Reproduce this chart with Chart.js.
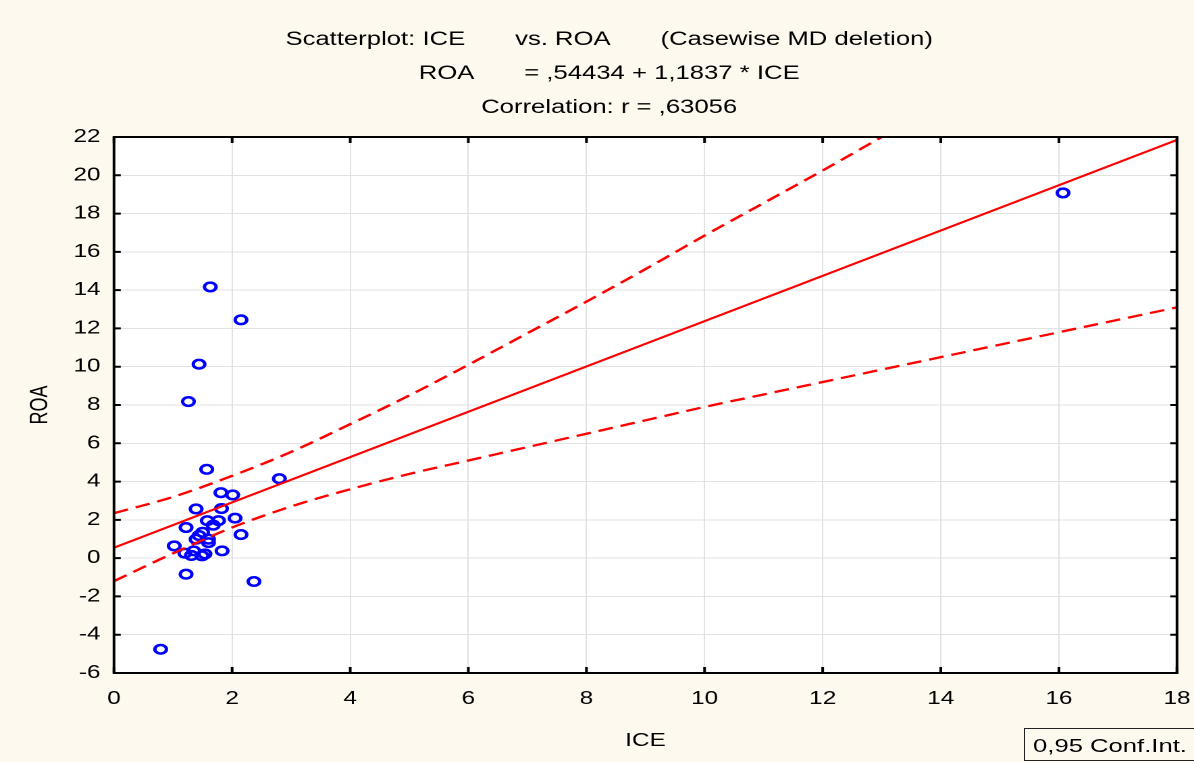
<!DOCTYPE html>
<html>
<head>
<meta charset="utf-8">
<script src="https://cdn.jsdelivr.net/npm/chart.js@4/dist/chart.umd.min.js"></script>
<style>
  html, body { margin: 0; padding: 0; background: #fdf9ef; overflow: hidden; }
  #wrap {
    position: absolute; left: 0; top: 0;
    width: 884px; height: 762px;
    transform: scaleX(1.3507); transform-origin: 0 0;
  }
  #legendBox {
    position: absolute; left: 1024px; top: 728px;
    width: 200px; height: 33px; line-height: 33px;
    border: 1px solid #222; background: #fdf9ef;
    padding-left: 8px; box-sizing: border-box;
    font-family: "Liberation Sans", Arial, sans-serif; font-size: 19px; color: #000;
  }
  #legendBox span { display: inline-block; transform: scaleX(1.35); transform-origin: 0 50%; white-space: pre; }
</style>
</head>
<body>
<div id="wrap"><canvas id="scatterChart" width="884" height="762"></canvas></div>
<div id="legendBox"><span>0,95 Conf.Int.</span></div>
<script>
// observed cases (ICE, ROA)
const iceValues = [1.26, 1.57, 2.80, 1.81, 2.01, 1.39, 1.82, 1.58, 1.77, 2.05, 1.22, 1.68, 1.50, 1.44, 1.39, 1.60,
                   1.60, 2.15, 1.02, 1.35, 1.83, 1.20, 1.54, 1.31, 1.49, 1.22, 2.37, 0.79, 1.63, 2.15, 1.44, 16.07];
const roaValues = [8.18, 4.64, 4.15, 3.42, 3.30, 2.57, 2.59, 1.96, 1.96, 2.09, 1.60, 1.72, 1.35, 1.18, 0.99, 0.99,
                   0.81, 1.23, 0.64, 0.38, 0.38, 0.26, 0.22, 0.14, 0.12, -0.84, -1.22, -4.76, 14.17, 12.45, 10.13, 19.08];

// regression line end points
const fitX = [0, 18];
const fitY = [0.544, 21.85];

// 0,95 confidence bands
const upperX = [0, 1, 2, 3, 4, 5, 6, 7, 8, 9, 10, 11, 12, 13];
const upperY = [2.35, 3.2, 4.3, 5.55, 7.0, 8.5, 10.1, 11.75, 13.4, 15.1, 16.85, 18.55, 20.25, 22.0];
const lowerX = [0, 1, 2, 3, 4, 5, 6, 7, 8, 9, 10, 11, 12, 13, 14, 15, 16, 17, 18];
const lowerY = [-1.2, 0.25, 1.6, 2.7, 3.6, 4.4, 5.1, 5.8, 6.5, 7.2, 7.9, 8.55, 9.2, 9.85, 10.5, 11.15, 11.8, 12.45, 13.1];

const xTicks = [0, 2, 4, 6, 8, 10, 12, 14, 16, 18];
const yTicks = [-6, -4, -2, 0, 2, 4, 6, 8, 10, 12, 14, 16, 18, 20, 22];

const titleLines = [
    'Scatterplot: ICE       vs. ROA       (Casewise MD deletion)',
    'ROA       = ,54434 + 1,1837 * ICE',
    'Correlation: r = ,63056'
];

const toPoints = (xs, ys) => xs.map((x, i) => ({ x: x, y: ys[i] }));

Chart.defaults.font.family = '"Liberation Sans", Arial, sans-serif';
Chart.defaults.color = '#000';

// cream page, white plot area, black frame with inward ticks
const framePlugin = {
    id: 'frame',
    beforeDraw(chart) {
        const { ctx, chartArea: a } = chart;
        ctx.save();
        ctx.fillStyle = '#fdf9ef';
        ctx.fillRect(0, 0, chart.width, chart.height);
        ctx.fillStyle = '#ffffff';
        ctx.fillRect(a.left, a.top, a.right - a.left, a.bottom - a.top);
        ctx.restore();
    },
    afterDraw(chart) {
        const { ctx, chartArea: a, scales } = chart;
        ctx.save();
        ctx.strokeStyle = '#000';
        ctx.lineWidth = 2;
        ctx.strokeRect(a.left, a.top, a.right - a.left, a.bottom - a.top);
        ctx.beginPath();
        xTicks.forEach(v => {
            const px = scales.x.getPixelForValue(v);
            ctx.moveTo(px, a.top); ctx.lineTo(px, a.top + 6);
            ctx.moveTo(px, a.bottom); ctx.lineTo(px, a.bottom - 6);
        });
        yTicks.forEach(v => {
            const py = scales.y.getPixelForValue(v);
            ctx.moveTo(a.left, py); ctx.lineTo(a.left + 5, py);
            ctx.moveTo(a.right, py); ctx.lineTo(a.right - 5, py);
        });
        ctx.stroke();
        ctx.restore();
    }
};

new Chart(document.getElementById('scatterChart'), {
    type: 'scatter',
    data: {
        datasets: [
            {
                data: toPoints(fitX, fitY),
                showLine: true,
                borderColor: '#ff0000',
                borderWidth: 2,
                pointRadius: 0,
                order: 1
            },
            {
                data: toPoints(upperX, upperY),
                showLine: true,
                borderColor: '#ff0000',
                borderWidth: 2.3,
                borderDash: [11, 6],
                cubicInterpolationMode: 'monotone',
                pointRadius: 0,
                order: 2
            },
            {
                data: toPoints(lowerX, lowerY),
                showLine: true,
                borderColor: '#ff0000',
                borderWidth: 2.3,
                borderDash: [11, 6],
                cubicInterpolationMode: 'monotone',
                pointRadius: 0,
                order: 3
            },
            {
                data: toPoints(iceValues, roaValues),
                pointStyle: 'circle',
                pointRadius: 4.3,
                pointBorderWidth: 2.5,
                pointBorderColor: '#0000ff',
                pointBackgroundColor: 'rgba(0,0,0,0)',
                order: 10
            }
        ]
    },
    options: {
        responsive: false,
        devicePixelRatio: 2,
        animation: false,
        layout: {
            padding: { left: 18, right: 0, top: 0, bottom: 0 }
        },
        plugins: {
            legend: { display: false },
            tooltip: { enabled: false },
            title: {
                display: true,
                text: titleLines,
                font: { size: 19, weight: 'normal', lineHeight: 34 / 19 },
                color: '#000',
                padding: { top: 23, bottom: 12 }
            }
        },
        scales: {
            x: {
                type: 'linear',
                min: 0,
                max: 18,
                afterFit: scale => {
                    scale.height = 89;
                    scale.paddingRight = 12.6;
                },
                afterBuildTicks: scale => { scale.ticks = xTicks.map(v => ({ value: v })); },
                ticks: { font: { size: 18 }, color: '#000', padding: 15, maxRotation: 0 },
                grid: { color: '#e2e2e2', lineWidth: 1, drawTicks: false },
                border: { display: false },
                title: { display: true, text: 'ICE', font: { size: 18 }, color: '#000', padding: { top: 0, bottom: 10 } }
            },
            y: {
                type: 'linear',
                min: -6,
                max: 22,
                afterFit: scale => { scale.width = 66.4; },
                afterBuildTicks: scale => { scale.ticks = yTicks.map(v => ({ value: v })); },
                ticks: { font: { size: 18 }, color: '#000', padding: 10 },
                grid: { color: '#e2e2e2', lineWidth: 1, drawTicks: false },
                border: { display: false },
                title: { display: true, text: 'ROA', font: { size: 18 }, color: '#000', padding: { top: 1, bottom: 0 } }
            }
        }
    },
    plugins: [framePlugin]
});
</script>
</body>
</html>
